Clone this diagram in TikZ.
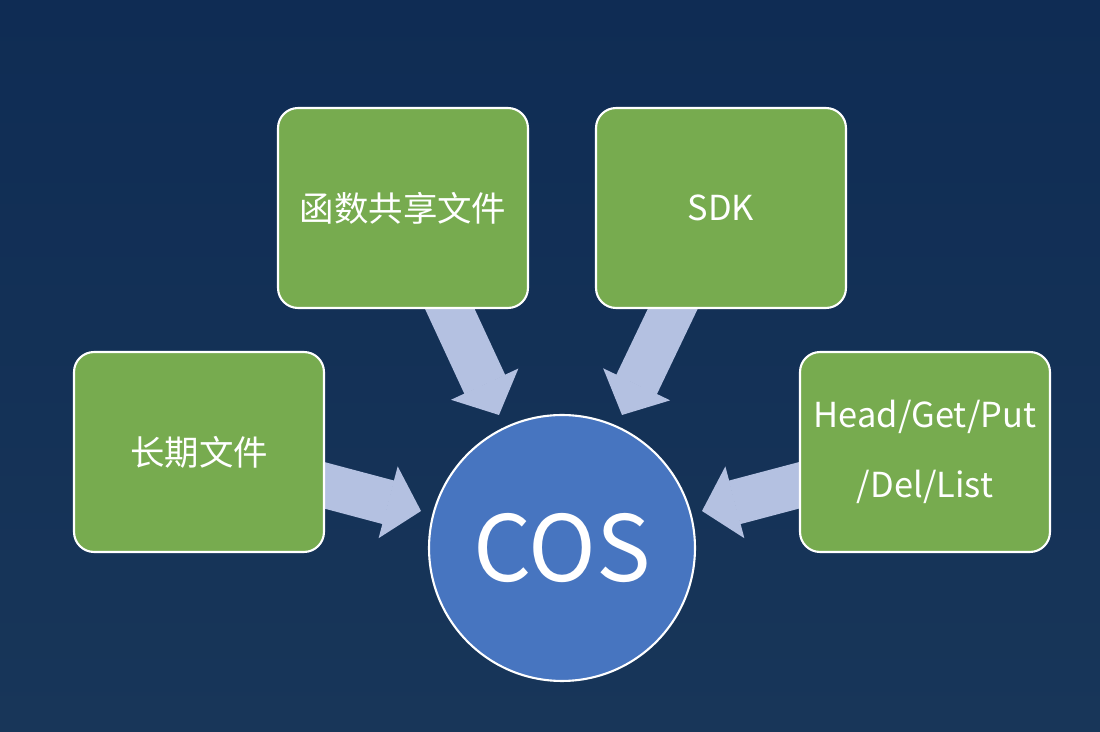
\documentclass[tikz,border=0pt]{standalone}
\usepackage{fontspec}
\setmainfont{Noto Sans CJK SC}
\usepackage{xcolor}
\usepackage{tikz}
\usetikzlibrary{arrows.meta}
\definecolor{bgtop}{HTML}{0F2C54}
\definecolor{bgbot}{HTML}{183659}
\definecolor{cardgreen}{HTML}{77AB4F}
\definecolor{hubblue}{HTML}{4775C0}
\definecolor{flowc}{HTML}{B4C1E1}
\pgfdeclarelayer{back}
\pgfdeclarelayer{links}
\pgfsetlayers{back,links,main}
\tikzset{
  card/.style={draw=white, fill=cardgreen, line width=1.2pt, rounded corners=0.4cm,
    minimum width=5cm, minimum height=4cm, inner sep=0pt, align=center,
    text=white, font=\fontsize{19.6}{40}\selectfont},
  hub/.style={circle, draw=white, fill=hubblue, line width=1.2pt, minimum size=5.32cm,
    inner sep=0pt, text=white, font=\fontsize{52}{60}\selectfont},
  flow/.style={draw=flowc, fill=flowc, line width=0.9cm,
    -{Triangle[length=0.68cm,width=1.48cm,line width=1pt]}},
}
\begin{document}
\begin{tikzpicture}[x=0.02cm,y=-0.02cm]
  \useasboundingbox (0,0) rectangle (1100,732);
  \begin{pgfonlayer}{back}
    \shade[top color=bgtop, bottom color=bgbot] (0,0) rectangle (1100,732);
  \end{pgfonlayer}

  \node[card] (share) at (403,208) {函数共享文件};
  \node[card] (sdk) at (721,208) {SDK};
  \node[card] (longterm) at (199,452) {长期文件};
  \node[card] (api) at (925,452) {Head/Get/Put\\/Del/List};
  \node[hub] (cos) at (562,548) {COS};

  % arrow tips near the circle
  \coordinate (inShare) at (499,415);
  \coordinate (inSdk) at (622,415);
  \coordinate (inLong) at (421,511);
  \coordinate (inApi) at (702,511);

  \begin{pgfonlayer}{links}
    \draw[flow] (share.center) -- (inShare);
    \draw[flow] (sdk.center) -- (inSdk);
    \draw[flow] (longterm.center) -- (inLong);
    \draw[flow] (api.center) -- (inApi);
  \end{pgfonlayer}
\end{tikzpicture}
\end{document}
